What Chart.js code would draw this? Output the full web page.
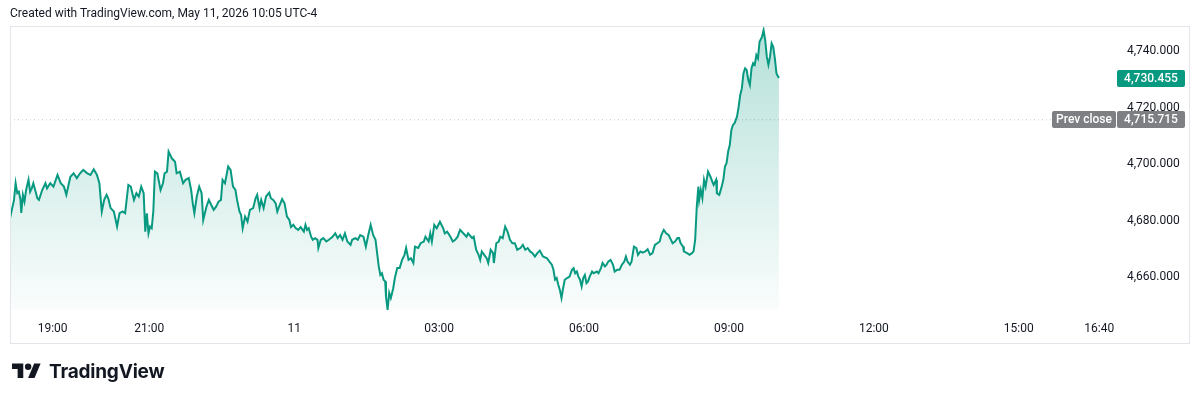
<!DOCTYPE html>
<html>
<head>
<meta charset="utf-8">
<title>TradingView snapshot</title>
<script src="https://cdn.jsdelivr.net/npm/chart.js@4.4.1/dist/chart.umd.min.js"></script>
<style>
  html, body { margin: 0; padding: 0; background: #fff; }
  body { width: 1200px; height: 401px; position: relative; overflow: hidden; color: #131722; font-family: Roboto, sans-serif; }
  #chart { position: absolute; left: 0; top: 0; }
  .credit { position: absolute; left: 10px; top: 6px; font-size: 12px; line-height: 14px; white-space: nowrap; }
  .brand { position: absolute; left: 12px; top: 360px; height: 23px; }
  .brand svg { position: absolute; left: 0; top: 0; }
  .brand span { position: absolute; left: 37px; top: 2px; font-family: Inter, sans-serif; font-weight: 700; font-size: 19px; line-height: 19px; letter-spacing: -0.2px; white-space: nowrap; color: #131722; }
</style>
</head>
<body>
<canvas id="chart" width="1200" height="401"></canvas>
<div class="credit">Created with TradingView.com, May 11, 2026 10:05 UTC-4</div>
<div class="brand">
  <svg width="29" height="23" viewBox="0 0 36 28"><path d="M14 22H7V11H0V4h14v18z" fill="#131722"/><circle cx="20" cy="8" r="4" fill="#131722"/><path d="M28 22h-8l7.5-18h8L28 22z" fill="#131722"/></svg>
  <span>TradingView</span>
</div>
<script>
// minutes from 00:00 on May 11 (negative = evening of May 10)
const minutes = [
  -353, -348, -346, -344, -342, -340, -339, -337, -335, -333,
  -330, -328, -326, -324, -319, -317, -313, -309, -307, -303,
  -299, -294, -290, -286, -283, -278, -274, -270, -266, -262,
  -257, -253, -249, -245, -242, -239, -236, -233, -231, -228,
  -224, -220, -217, -213, -210, -206, -203, -199, -196, -193,
  -190, -187, -185, -183, -181, -179, -177, -175, -173, -170,
  -166, -163, -161, -158, -156, -152, -148, -146, -142, -138,
  -135, -131,
  -128, -126, -124, -121, -118, -115, -113, -109, -106, -103,
  -100, -97, -94, -91, -89, -86, -82, -79, -76, -73,
  -71, -68, -66, -64, -61, -58, -55, -51, -48, -46,
  -43, -41, -38, -35, -31, -29, -26, -23, -21, -18,
  -15, -12, -9, -6, -4, -1, 2, 5, 8, 12,
  14, 16, 18, 21, 23, 26, 29, 30, 33, 36,
  40, 43, 47, 51, 54, 57, 60, 63, 66, 70,
  72, 76, 79,
  82, 86, 89, 92, 95, 98, 101, 103, 105, 107,
  109, 111, 113, 114, 116, 118, 120, 123, 125, 128,
  131, 134, 137, 139, 142, 145, 148, 150, 154, 157,
  161, 163, 167, 169, 171, 174, 177, 181, 185, 187,
  190, 194, 197, 200, 203, 206, 210, 214, 216, 221,
  223, 226, 229, 231, 233, 236, 239, 241, 244, 247,
  248, 251, 254, 256, 259, 262, 265, 268, 271, 274,
  277, 281, 284, 287, 290, 293, 296, 299, 302, 305,
  309, 314, 317, 320, 322, 324, 326, 328, 330, 332,
  334, 336, 339, 342, 345, 347, 349, 351, 353, 355,
  357, 359, 361, 363, 365, 367, 370, 372, 376, 378,
  381, 383, 386, 388, 390, 393, 396, 398, 401, 404,
  407, 410, 412, 414, 417, 419, 422, 425, 427, 430,
  433, 436, 439, 442, 445, 448, 451, 454, 456, 459,
  462, 465, 468, 470, 473, 476, 478, 480, 483, 484,
  488, 491, 494, 496, 498,
  500, 502, 503, 505, 507, 509, 511, 514, 517, 520,
  521, 524, 525, 528, 531, 533, 535, 537, 539, 541,
  543, 545, 547, 550, 552, 554, 556, 558, 560, 562,
  564, 566, 568, 570, 572, 574, 576, 578, 581, 583,
  585, 587, 589, 591, 593, 595, 597, 599, 602
];

const prices = [
  4680.9, 4687.4, 4693.3, 4689.8, 4690.3, 4687.4, 4682.8, 4689.2, 4686.8, 4690.9,
  4694.5, 4690.3, 4691.5, 4693.3, 4688.0, 4687.4, 4690.9, 4693.3, 4691.5, 4693.3,
  4692.1, 4696.2, 4693.3, 4692.1, 4689.2, 4695.6, 4696.8, 4695.1, 4696.8, 4698.0,
  4696.8, 4696.2, 4698.2, 4696.2, 4693.3, 4683.3, 4687.4, 4689.2, 4688.0, 4684.5,
  4683.3, 4678.0, 4682.7, 4683.3, 4682.7, 4692.7, 4692.1, 4687.4, 4689.8, 4688.6,
  4692.1, 4689.8, 4676.2, 4682.7, 4675.6, 4678.0, 4677.4, 4683.3, 4697.4, 4696.8,
  4690.9, 4693.3, 4696.8, 4697.4, 4704.5, 4702.1, 4700.9, 4696.8, 4697.4, 4693.3,
  4694.5, 4695.1,
  4690.9, 4686.2, 4682.7, 4688.6, 4692.1, 4689.8, 4680.3, 4685.0, 4687.4, 4685.6,
  4683.9, 4685.0, 4686.8, 4687.4, 4694.5, 4693.3, 4699.2, 4698.0, 4692.1, 4690.9,
  4687.4, 4683.3, 4682.1, 4677.4, 4681.5, 4679.7, 4683.9, 4684.5, 4688.0, 4689.2,
  4684.5, 4687.4, 4684.5, 4688.6, 4690.0, 4688.0, 4687.4, 4686.2, 4683.3, 4685.6,
  4687.7, 4686.2, 4681.5, 4680.3, 4677.8, 4678.6, 4677.4, 4676.8, 4677.8, 4676.2,
  4678.6, 4676.8, 4677.4, 4674.4, 4673.3, 4673.9, 4673.3, 4670.4, 4673.3, 4673.9,
  4672.7, 4673.3, 4674.2, 4675.6, 4673.9, 4675.0, 4673.3, 4675.6, 4672.7, 4671.5,
  4673.3, 4673.9, 4673.3,
  4675.0, 4674.4, 4670.9, 4675.0, 4678.6, 4675.0, 4673.3, 4668.6, 4663.9, 4660.9,
  4661.5, 4659.2, 4658.6, 4653.3, 4648.6, 4654.5, 4652.7, 4656.2, 4659.8, 4663.3,
  4663.3, 4666.2, 4668.0, 4670.4, 4666.2, 4666.8, 4665.1, 4670.9, 4670.4, 4672.1,
  4672.7, 4674.4, 4672.7, 4675.6, 4672.7, 4678.6, 4677.4, 4679.7, 4677.4, 4675.6,
  4676.2, 4674.4, 4672.7, 4673.3, 4674.4, 4676.8, 4675.6, 4674.4, 4675.6, 4673.9,
  4674.4, 4669.8, 4668.0, 4666.2, 4669.2, 4668.0, 4666.8, 4665.1, 4669.8, 4668.6,
  4665.1, 4672.1, 4672.7, 4674.4, 4673.9, 4678.0, 4676.2, 4673.3, 4672.1, 4672.1,
  4669.8, 4670.4, 4671.5, 4669.8, 4670.4, 4669.2, 4668.6, 4667.4, 4668.6, 4669.5,
  4667.4, 4666.8, 4665.6, 4664.5, 4662.7, 4659.2, 4659.8, 4657.4, 4655.6, 4652.7,
  4656.2, 4659.2, 4659.8, 4660.3, 4662.7, 4663.3, 4661.5, 4662.1, 4660.3, 4659.2,
  4656.8, 4659.8, 4660.9, 4658.0, 4658.6, 4660.3, 4662.1, 4661.5, 4662.1, 4661.5,
  4663.3, 4665.1, 4663.9, 4664.5, 4665.6, 4666.2, 4664.5, 4662.1, 4662.7, 4662.7,
  4664.5, 4665.6, 4667.4, 4665.6, 4664.5, 4665.6, 4670.9, 4670.4, 4668.0, 4669.2,
  4668.8, 4669.2, 4670.0, 4668.0, 4668.6, 4671.5, 4672.1, 4672.7, 4675.0, 4676.8,
  4675.6, 4675.0, 4673.3, 4672.1, 4672.7, 4673.9, 4673.9, 4672.1, 4670.9, 4669.2,
  4668.6, 4668.0, 4668.6, 4669.2, 4673.3,
  4685.0, 4692.1, 4687.4, 4690.9, 4688.0, 4694.5, 4692.1, 4697.4, 4695.6, 4693.3,
  4692.7, 4694.5, 4689.8, 4689.2, 4692.1, 4694.5, 4699.2, 4700.4, 4704.5, 4706.8,
  4712.1, 4713.9, 4714.5, 4716.8, 4720.3, 4724.5, 4726.8, 4732.1, 4733.9, 4733.3,
  4729.8, 4728.0, 4733.9, 4735.7, 4735.1, 4738.6, 4737.4, 4743.3, 4745.0, 4747.4,
  4743.9, 4738.0, 4735.1, 4738.0, 4742.7, 4741.5, 4737.4, 4732.1, 4730.455
];

const PREV_CLOSE = 4715.715;
const LAST_PRICE = prices.at(-1);

const xTicks = [-300, -180, 0, 180, 360, 540, 720, 900, 1000];
const xTickLabels = ['19:00', '21:00', '11', '03:00', '06:00', '09:00', '12:00', '15:00', '16:40'];
const yTicks = [4660, 4680, 4700, 4720, 4740];
const yTickLabels = ['4,660.000', '4,680.000', '4,700.000', '4,720.000', '4,740.000'];

const X_MIN = -353;
const X_MAX = 1017;
const Y_MIN = 4648.5;
const Y_MAX = 4748.5;

const GREEN = '#089981';
const GREY_TAG = '#7e7f83';
const FONT = 'Roboto, sans-serif';

const fmt = (v) => v.toLocaleString('en-US', { minimumFractionDigits: 3, maximumFractionDigits: 3 });

// ─── Plugins ─────────────────────────────────────────────────────────────────

const frame = {
  id: 'frame',
  afterDraw(chart) {
    const { ctx } = chart;
    ctx.save();
    ctx.strokeStyle = '#e3e5ea';
    ctx.lineWidth = 1;
    ctx.strokeRect(10.5, 26.5, 1179, 317);
    ctx.restore();
  },
};

const drawTag = (ctx, text, left, width, cy, color) => {
  const h = 17;
  ctx.fillStyle = color;
  ctx.beginPath();
  ctx.roundRect(left, Math.round(cy - h / 2), width, h, 2);
  ctx.fill();
  ctx.fillStyle = '#ffffff';
  ctx.font = `500 12px ${FONT}`;
  ctx.textBaseline = 'middle';
  ctx.textAlign = 'center';
  ctx.fillText(text, left + width / 2, cy + 0.5);
};

const priceTags = {
  id: 'priceTags',
  afterDraw(chart) {
    const { ctx, scales: { y } } = chart;
    ctx.save();
    drawTag(ctx, fmt(LAST_PRICE), 1117, 68, y.getPixelForValue(LAST_PRICE), GREEN);
    const py = y.getPixelForValue(PREV_CLOSE);
    drawTag(ctx, 'Prev close', 1052, 64, py, GREY_TAG);
    drawTag(ctx, fmt(PREV_CLOSE), 1117, 68, py, GREY_TAG);
    ctx.restore();
  },
};

// ─── Chart ───────────────────────────────────────────────────────────────────

const areaFill = (context) => {
  const { chart } = context;
  const area = chart.chartArea;
  if (!area) return 'rgba(8, 153, 129, 0.12)';
  const g = chart.ctx.createLinearGradient(0, area.top, 0, area.bottom);
  g.addColorStop(0, 'rgba(8, 153, 129, 0.30)');
  g.addColorStop(1, 'rgba(8, 153, 129, 0.02)');
  return g;
};

new Chart(document.getElementById('chart'), {
  type: 'line',
  data: {
    datasets: [
      {
        label: 'Price',
        data: minutes.map((m, i) => ({ x: m, y: prices[i] })),
        borderColor: GREEN,
        borderWidth: 2,
        backgroundColor: areaFill,
        fill: 'start',
        pointRadius: 0,
        tension: 0,
        order: 0,
      },
      {
        label: 'Prev close',
        data: [{ x: X_MIN, y: PREV_CLOSE }, { x: X_MAX, y: PREV_CLOSE }],
        borderColor: '#c3c5cb',
        borderWidth: 1,
        borderDash: [1, 3],
        pointRadius: 0,
        fill: false,
        order: 1,
      },
    ],
  },
  options: {
    responsive: false,
    animation: false,
    events: [],
    layout: { padding: { left: 10, top: 27, right: 11, bottom: 58 } },
    plugins: { legend: { display: false }, tooltip: { enabled: false } },
    scales: {
      x: {
        type: 'linear',
        min: X_MIN,
        max: X_MAX,
        afterFit: (s) => { s.height = 33; },
        afterBuildTicks: (s) => { s.ticks = xTicks.map((v) => ({ value: v })); },
        grid: { display: false, drawTicks: false },
        border: { display: false },
        ticks: {
          autoSkip: false,
          maxRotation: 0,
          padding: 12,
          color: '#131722',
          font: { family: FONT, size: 12 },
          callback: (v, i) => xTickLabels[i],
        },
      },
      y: {
        position: 'right',
        min: Y_MIN,
        max: Y_MAX,
        afterFit: (s) => { s.width = 76; },
        afterBuildTicks: (s) => { s.ticks = yTicks.map((v) => ({ value: v })); },
        grid: { display: false, drawTicks: false },
        border: { display: false },
        ticks: {
          padding: 14,
          color: '#131722',
          font: { family: FONT, size: 12 },
          callback: (v, i) => yTickLabels[i],
        },
      },
    },
  },
  plugins: [frame, priceTags],
});
</script>
</body>
</html>
